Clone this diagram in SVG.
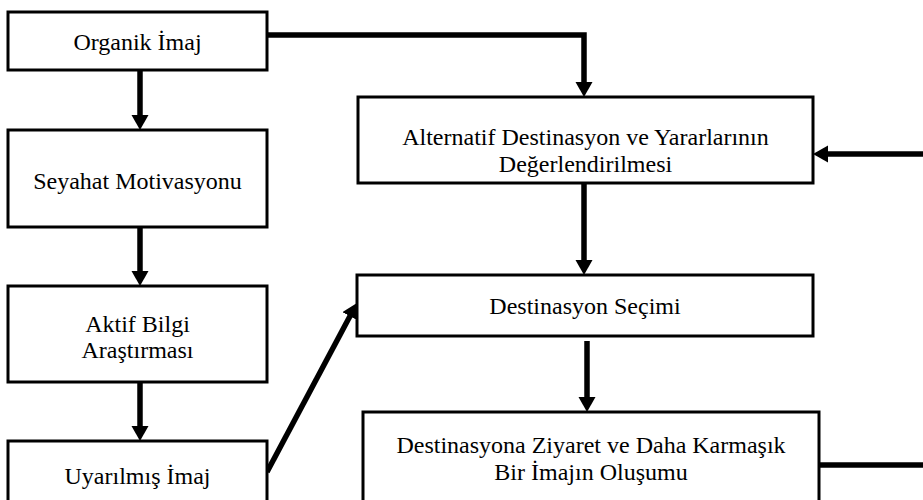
<svg xmlns="http://www.w3.org/2000/svg" width="923" height="500" viewBox="0 0 923 500">
<style>
.box{fill:#fff;stroke:#000;stroke-width:3}
text{font-family:'Liberation Serif','Times New Roman','DejaVu Serif',serif;font-size:24px;fill:#000;text-anchor:middle}
.c{fill:none;stroke:#000;stroke-width:5.5}
</style>
<defs>
<marker id="ah" markerUnits="userSpaceOnUse" markerWidth="18" markerHeight="18" refX="5" refY="8.5" orient="auto">
<path d="M0,0 L15,8.5 L0,17 z" fill="#000"/>
</marker>
</defs>
<rect width="923" height="500" fill="#fff"/>
<g id="connectors">
<path class="c" d="M267,35 H584 V87" marker-end="url(#ah)"/>
<path class="c" d="M140,70 V120" marker-end="url(#ah)"/>
<path class="c" d="M140,227 V276" marker-end="url(#ah)"/>
<path class="c" d="M140,382 V431" marker-end="url(#ah)"/>
<path class="c" d="M584,183 V265" marker-end="url(#ah)"/>
<path class="c" d="M587,341 V402" marker-end="url(#ah)"/>
<path class="c" d="M923,154 H823" marker-end="url(#ah)"/>
<path class="c" d="M267,472 L352.3,311.8" marker-end="url(#ah)"/>
<path class="c" d="M819,465 H923"/>
</g>
<g id="organik">
<rect class="box" x="8" y="12" width="259" height="58"/>
<text x="137.5" y="50" font-family="Liberation Serif, serif">Organik İmaj</text>
</g>
<g id="seyahat">
<rect class="box" x="8" y="130" width="259" height="97"/>
<text x="137.5" y="189">Seyahat Motivasyonu</text>
</g>
<g id="aktif">
<rect class="box" x="8" y="286" width="259" height="96"/>
<text x="137.5" y="332">Aktif Bilgi</text>
<text x="137.5" y="358">Araştırması</text>
</g>
<g id="uyarilmis">
<rect class="box" x="8" y="441" width="259" height="75"/>
<text x="137.5" y="484">Uyarılmış İmaj</text>
</g>
<g id="alternatif">
<rect class="box" x="358" y="97" width="455" height="86"/>
<text x="585.5" y="145">Alternatif Destinasyon ve Yararlarının</text>
<text x="585.5" y="172">Değerlendirilmesi</text>
</g>
<g id="secim">
<rect class="box" x="357" y="275" width="456" height="61"/>
<text x="585" y="314">Destinasyon Seçimi</text>
</g>
<g id="ziyaret">
<rect class="box" x="363" y="412" width="456" height="100"/>
<text x="591" y="453">Destinasyona Ziyaret ve Daha Karmaşık</text>
<text x="591" y="480">Bir İmajın Oluşumu</text>
</g>
</svg>
